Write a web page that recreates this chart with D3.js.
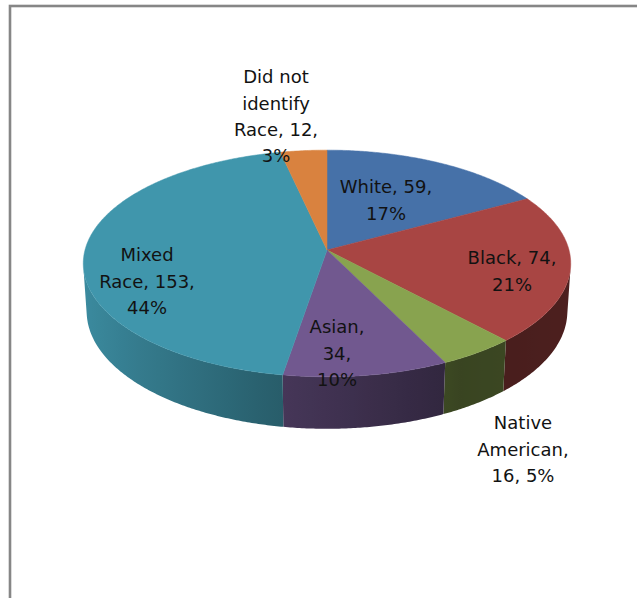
<!DOCTYPE html>
<html>
<head>
<meta charset="utf-8">
<script src="https://cdn.jsdelivr.net/npm/d3@7"></script>
<style>
  html, body { margin: 0; padding: 0; background: #fff; }
  svg { display: block; }
</style>
</head>
<body>
<script>
// Respondents by race
const categories = ["White", "Black", "Native American", "Asian", "Mixed Race", "Did not identify Race"];
const counts = [59, 74, 16, 34, 153, 12];
const sliceColors = ["#4671A8", "#A84543", "#88A34F", "#71588F", "#4096AC", "#D9823F"];

// Label placement (centre of first line) and wrap width for each slice's label
const labelLayout = [
  { x: 386, y: 187, wrap: 100 },
  { x: 512, y: 258, wrap: 100 },
  { x: 523, y: 423, wrap: 100 },
  { x: 337, y: 327, wrap: 60 },
  { x: 147, y: 255, wrap: 100 },
  { x: 276, y: 77, wrap: 95 }
];

const W = 637, H = 598;
const cx = 327, cy = 250;          // screen position of the pie's top centre
const rx = 242;                    // horizontal radius in pixels
const tilt = 27.5 * Math.PI / 180; // viewing elevation
const persp = 0.134;               // radius / camera distance
const depth = 0.225;               // thickness as a fraction of the radius
const fontSize = 18, lineGap = 26.3;

const svg = d3.select("body").append("svg")
  .attr("width", W).attr("height", H);
const defs = svg.append("defs");

svg.append("rect").attr("width", W).attr("height", H).attr("fill", "#fff");

// chart area frame
svg.append("rect")
  .attr("x", 10).attr("y", 6)
  .attr("width", 800).attr("height", 800)
  .attr("fill", "none")
  .attr("stroke", "#868686")
  .attr("stroke-width", 2.6);

// Perspective projection of a point on the disc: theta clockwise from the back,
// r as a fraction of the radius, h height (0 = top face, negative = below)
function project(theta, r, h) {
  const X = r * Math.sin(theta), Y = -r * Math.cos(theta);
  const dist = 1 - persp * (Y * Math.cos(tilt) + h * Math.sin(tilt));
  return [cx + rx * X / dist, cy + rx * (Y * Math.sin(tilt) - h * Math.cos(tilt)) / dist];
}

const total = d3.sum(counts);
const data = categories.map((c, i) => ({
  name: c, value: counts[i], color: sliceColors[i],
  pct: Math.round(counts[i] / total * 100) + "%", layout: labelLayout[i]
}));

const arcs = d3.pie().sort(null).value(d => d.value)
  .startAngle(0).endAngle(2 * Math.PI)(data);

// Side wall: only the part facing the viewer is drawn, shaded from light (left) to dark (right)
const limit = Math.acos(-persp / Math.cos(tilt));
const visStart = limit, visEnd = 2 * Math.PI - limit;
const shade = d3.scaleLinear().domain([-1, -0.2, 0.5, 1]).range([0.93, 0.63, 0.42, 0.46]).clamp(true);
const line = d3.line();
const step = 0.5 * Math.PI / 180;

const sideG = svg.append("g");
arcs.forEach((a, idx) => {
  const s = Math.max(a.startAngle, visStart), e = Math.min(a.endAngle, visEnd);
  if (e <= s) return;
  const n = Math.ceil((e - s) / step);
  const thetas = d3.range(n + 1).map(i => s + (e - s) * i / n);
  const topPts = thetas.map(t => project(t, 1, 0));
  const botPts = thetas.map(t => project(t, 1, -depth)).reverse();
  const x1 = topPts[0][0], x2 = topPts[n][0];
  const base = d3.rgb(a.data.color);
  const grad = defs.append("linearGradient")
    .attr("id", "side" + idx)
    .attr("gradientUnits", "userSpaceOnUse")
    .attr("x1", x1).attr("x2", x2).attr("y1", 0).attr("y2", 0);
  const nStops = 12;
  d3.range(nStops + 1).forEach(j => {
    const t = s + (e - s) * j / nStops;
    const f = shade(Math.sin(t));
    grad.append("stop")
      .attr("offset", (project(t, 1, 0)[0] - x1) / (x2 - x1))
      .attr("stop-color", d3.rgb(base.r * f, base.g * f, base.b * f).formatHex());
  });
  sideG.append("path")
    .attr("d", line(topPts.concat(botPts)) + "Z")
    .attr("fill", `url(#side${idx})`);
});

// Top face
const topG = svg.append("g");
arcs.forEach(a => {
  const n = Math.max(2, Math.ceil((a.endAngle - a.startAngle) / step));
  const pts = [project(0, 0, 0)];
  for (let i = 0; i <= n; i++) {
    pts.push(project(a.startAngle + (a.endAngle - a.startAngle) * i / n, 1, 0));
  }
  topG.append("path")
    .attr("d", line(pts) + "Z")
    .attr("fill", a.data.color)
    .attr("stroke", a.data.color).attr("stroke-width", 0.5);
});

// Data labels: "name, value, percent", word-wrapped
const ctx = document.createElement("canvas").getContext("2d");
ctx.font = `${fontSize}px "DejaVu Sans"`;
function wrap(text, width) {
  const words = text.split(" ");
  const lines = [];
  let cur = "";
  words.forEach(w => {
    const test = cur ? cur + " " + w : w;
    if (cur && ctx.measureText(test).width > width) { lines.push(cur); cur = w; }
    else cur = test;
  });
  if (cur) lines.push(cur);
  return lines;
}

const labelG = svg.append("g")
  .attr("font-family", "'DejaVu Sans', sans-serif")
  .attr("font-size", fontSize)
  .attr("fill", "#121212")
  .attr("text-anchor", "middle");

arcs.forEach(a => {
  const d = a.data;
  const lines = wrap(`${d.name}, ${d.value}, ${d.pct}`, d.layout.wrap);
  const t = labelG.append("text");
  lines.forEach((ln, i) => {
    t.append("tspan")
      .attr("x", d.layout.x)
      .attr("y", d.layout.y + i * lineGap + fontSize * 0.36)
      .text(ln);
  });
});
</script>
</body>
</html>
